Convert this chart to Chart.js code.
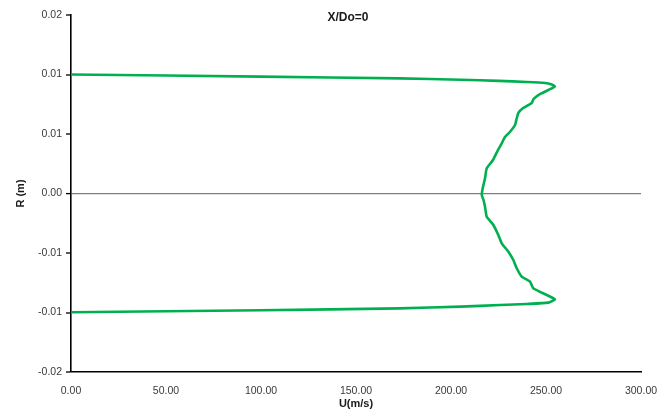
<!DOCTYPE html>
<html>
<head>
<meta charset="utf-8">
<script src="https://cdn.jsdelivr.net/npm/chart.js@4.4.1/dist/chart.umd.min.js"></script>
<style>
html,body{margin:0;padding:0;background:#fff;}
#wrap{width:672px;height:412px;position:relative;}
</style>
</head>
<body>
<div id="wrap"><canvas id="c" width="672" height="412"></canvas></div>
<script>
// Velocity profile U (m/s) vs radial position R (m), in drawing order
const uValues = [0, 100, 173, 205, 225, 240, 249.5, 253, 254.7, 252.5, 247, 243.5, 242.5, 238, 235.5, 234.6, 233.7, 231.1, 228.4, 226.7, 224.7, 222.1, 218.8, 217.9, 216.7, 216.2, 217.1, 217.9, 218.8, 222.3, 224.9, 226.7, 230.2, 232.8, 234.6, 237.2, 241.6, 243.3, 250.4, 254.7, 251.2, 240, 225.8, 205, 173, 100, 0];
const rValues = [0.01333, 0.01310, 0.01290, 0.01274, 0.01262, 0.01250, 0.01238, 0.01222, 0.01200, 0.01172, 0.01115, 0.01060, 0.01015, 0.00958, 0.00905, 0.00843, 0.00767, 0.00692, 0.00633, 0.00562, 0.00487, 0.00375, 0.00282, 0.00170, 0.00058, -0.00017, -0.00073, -0.00148, -0.00260, -0.00353, -0.00465, -0.00558, -0.00652, -0.00745, -0.00838, -0.00932, -0.00988, -0.01062, -0.01137, -0.01185, -0.01223, -0.01238, -0.01250, -0.01268, -0.01287, -0.01308, -0.01331];
const yTickValues = [-0.02, -0.04/3, -0.02/3, 0, 0.02/3, 0.04/3, 0.02];
const xTickValues = [0, 50, 100, 150, 200, 250, 300];
const chartTitle = 'X/Do=0';
const xTitle = 'U(m/s)';
const yTitle = 'R (m)';

const points = uValues.map((u, i) => ({x: u, y: rValues[i]}));

const titlePlugin = {
  id: 'overlayTitle',
  afterDraw(chart) {
    const ctx = chart.ctx;
    const a = chart.chartArea;
    ctx.save();
    ctx.font = 'bold 12px "Liberation Sans", Arial, sans-serif';
    ctx.fillStyle = '#1a1a1a';
    ctx.textAlign = 'center';
    ctx.textBaseline = 'middle';
    ctx.fillText(chartTitle, (a.left + a.right) / 2 - 8, 18);
    ctx.restore();
  }
};

new Chart(document.getElementById('c'), {
  type: 'scatter',
  data: {
    datasets: [{
      data: points,
      showLine: true,
      borderColor: '#00B050',
      borderWidth: 2.6,
      pointRadius: 0,
      tension: 0.15,
      borderJoinStyle: 'round',
      borderCapStyle: 'round',
      fill: false
    }]
  },
  options: {
    responsive: false,
    animation: false,
    layout: {padding: {left: 14, right: 31, top: 15, bottom: 0}},
    plugins: {legend: {display: false}, tooltip: {enabled: false}},
    scales: {
      x: {
        type: 'linear',
        min: 0, max: 300,
        afterBuildTicks: s => { s.ticks = xTickValues.map(v => ({value: v})); },
        afterFit: s => { s.height = 40; },
        grid: {display: false},
        border: {display: true, color: '#000', width: 1.6},
        ticks: {
          color: '#3a3a3a', padding: 5,
          font: {family: '"Liberation Sans", Arial, sans-serif', size: 10.5},
          callback: v => Number(v).toFixed(2)
        },
        title: {display: true, text: xTitle, color: '#1a1a1a', padding: {top: 2, bottom: 1},
          font: {family: '"Liberation Sans", Arial, sans-serif', size: 11, weight: 'bold'}}
      },
      y: {
        type: 'linear',
        min: -0.02, max: 0.02,
        afterBuildTicks: s => { s.ticks = yTickValues.map(v => ({value: v})); },
        afterFit: s => { s.width = 57; },
        grid: {
          display: true,
          drawOnChartArea: true,
          drawTicks: true,
          tickLength: 5,
          tickColor: '#000',
          tickWidth: 1.3,
          color: c => (c.tick && Math.abs(c.tick.value) < 1e-9) ? '#7f7f7f' : 'rgba(0,0,0,0)',
          lineWidth: c => (c.tick && Math.abs(c.tick.value) < 1e-9) ? 1.2 : 0
        },
        border: {display: true, color: '#000', width: 1.6},
        ticks: {
          color: '#3a3a3a', padding: 4,
          font: {family: '"Liberation Sans", Arial, sans-serif', size: 10.5},
          callback: v => { const s = Number(v).toFixed(2); return s === '-0.00' ? '0.00' : s; }
        },
        title: {display: true, text: yTitle, color: '#1a1a1a', padding: {top: 0, bottom: 4},
          font: {family: '"Liberation Sans", Arial, sans-serif', size: 11, weight: 'bold'}}
      }
    }
  },
  plugins: [titlePlugin]
});
</script>
</body>
</html>
